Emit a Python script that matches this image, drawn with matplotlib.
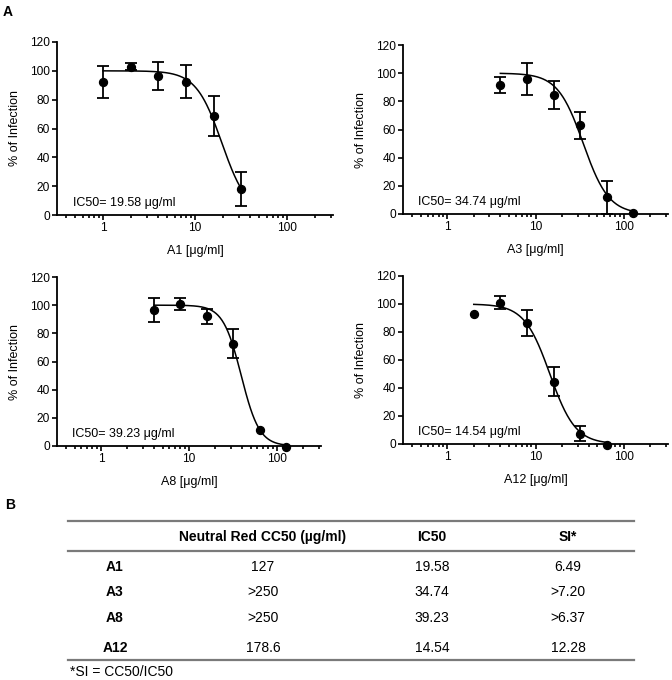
import numpy as np
import matplotlib
matplotlib.use('Agg')
import matplotlib.pyplot as plt
from matplotlib.lines import Line2D

plt.rcParams['font.family'] = ['Liberation Sans', 'DejaVu Sans']

# dose-response data (concentration in ug/ml, % of infection, error)
names = ['A1', 'A3', 'A8', 'A12']
ic50 = [19.58, 34.74, 39.23, 14.54]
hill = [3.1, 3.0, 4.2, 3.0]

a1_x = [1, 2, 4, 8, 16, 32]
a1_y = [92.5, 103, 96.5, 92.5, 68.5, 18]
a1_err = [11, 2.5, 9.5, 11.5, 13.7, 12]

a3_x = [4, 8, 16, 32, 64, 128]
a3_y = [91.5, 96, 84.5, 63, 11.8, 0.5]
a3_err = [5.5, 11.5, 10.2, 9.5, 11.5, 0]

a8_x = [4, 8, 16, 32, 64, 125]
a8_y = [96.5, 101, 92, 72.5, 11.5, -0.5]
a8_err = [8.7, 4.4, 5.6, 10.3, 0, 0]

a12_x = [2, 4, 8, 16, 32, 64]
a12_y = [93, 101, 86.5, 44.5, 7.5, -1]
a12_err = [0, 4.4, 9.5, 10.2, 5.6, 0]

xs = [a1_x, a3_x, a8_x, a12_x]
ys = [a1_y, a3_y, a8_y, a12_y]
errs = [a1_err, a3_err, a8_err, a12_err]

# table
row_labels = ['A1', 'A3', 'A8', 'A12']
col_labels = ['Neutral Red CC50 (\u00b5g/ml)', 'IC50', 'SI*']
cc50_txt = ['127', '>250', '>250', '178.6']
ic50_txt = ['19.58', '34.74', '39.23', '14.54']
si_txt = ['6.49', '>7.20', '>6.37', '12.28']

W, H = 672, 680
fig = plt.figure(figsize=(W / 100, H / 100), dpi=100)


def px(x, y):
    return x / W, 1 - y / H


# axes boxes in pixels: left, top, right, bottom
boxes = [(57, 42, 333, 215), (403, 45, 668, 214),
         (57, 277, 321, 446), (403, 276, 668, 444)]

for i in range(4):
    l, t, r, b = boxes[i]
    ax = fig.add_axes([l / W, 1 - b / H, (r - l) / W, (b - t) / H])
    x = np.array(xs[i], dtype=float)
    y = np.array(ys[i], dtype=float)
    e = np.array(errs[i], dtype=float)
    fx = np.logspace(np.log10(x[0]), np.log10(x[-1]), 200)
    fy = 100 / (1 + (fx / ic50[i]) ** hill[i])
    ax.plot(fx, fy, color='black', lw=1.1, clip_on=False)
    has = e > 0
    ax.errorbar(x[has], y[has], yerr=e[has], fmt='none', ecolor='black',
                elinewidth=1.3, capsize=4.2, capthick=1.3, clip_on=False)
    ax.plot(x, y, 'o', color='black', ms=5.7, clip_on=False)
    ax.set_xscale('log')
    ax.set_xlim(10 ** -0.5, 10 ** 2.5)
    ax.set_ylim(0, 120)
    ax.set_yticks([0, 20, 40, 60, 80, 100, 120])
    ax.set_xticks([1, 10, 100])
    ax.set_xticklabels(['1', '10', '100'])
    ax.spines['top'].set_visible(False)
    ax.spines['right'].set_visible(False)
    ax.spines['left'].set_linewidth(1.3)
    ax.spines['bottom'].set_linewidth(1.3)
    ax.tick_params(axis='both', which='major', labelsize=8.6, width=1.2,
                   length=3.8, pad=1.5)
    ax.tick_params(axis='x', which='minor', width=1.2, length=2.2)
    ax.set_xlabel(names[i] + ' [\u03bcg/ml]', fontsize=9)
    ax.xaxis.set_label_coords(0.5, -(36 / (b - t)))
    ax.xaxis.label.set_va('center')
    ax.set_ylabel('% of Infection', fontsize=9)
    ax.yaxis.set_label_coords(-(42 / (r - l)), 0.5)
    ax.yaxis.label.set_va('center')
    ax.text(0.058, 0.072, 'IC50= %.2f \u03bcg/ml' % ic50[i], fontsize=9,
            transform=ax.transAxes, va='center', ha='left')

fig.text(*px(3, 12), 'A', fontsize=10, fontweight='bold', va='center')
fig.text(*px(5, 505), 'B', fontsize=10, fontweight='bold', va='center')

# table B
rule_color = '#7a7a7a'
for yy in [521, 551, 660]:
    x0, y0 = px(68, yy)
    x1, _ = px(634, yy)
    fig.add_artist(Line2D([x0, x1], [y0, y0], color=rule_color, lw=1.6))

col_x = [263, 432, 568]
row_x = 115
row_y = [567, 592, 618, 648]
for j, lab in enumerate(col_labels):
    fig.text(*px(col_x[j], 537), lab, fontsize=10, fontweight='bold',
             ha='center', va='center')
for k in range(4):
    fig.text(*px(row_x, row_y[k]), row_labels[k], fontsize=10,
             fontweight='bold', ha='center', va='center')
    fig.text(*px(col_x[0], row_y[k]), cc50_txt[k], fontsize=10,
             ha='center', va='center')
    fig.text(*px(col_x[1], row_y[k]), ic50_txt[k], fontsize=10,
             ha='center', va='center')
    fig.text(*px(col_x[2], row_y[k]), si_txt[k], fontsize=10,
             ha='center', va='center')
fig.text(*px(70, 672), '*SI = CC50/IC50', fontsize=10, ha='left', va='center')

fig.savefig('out.png', dpi=100)
